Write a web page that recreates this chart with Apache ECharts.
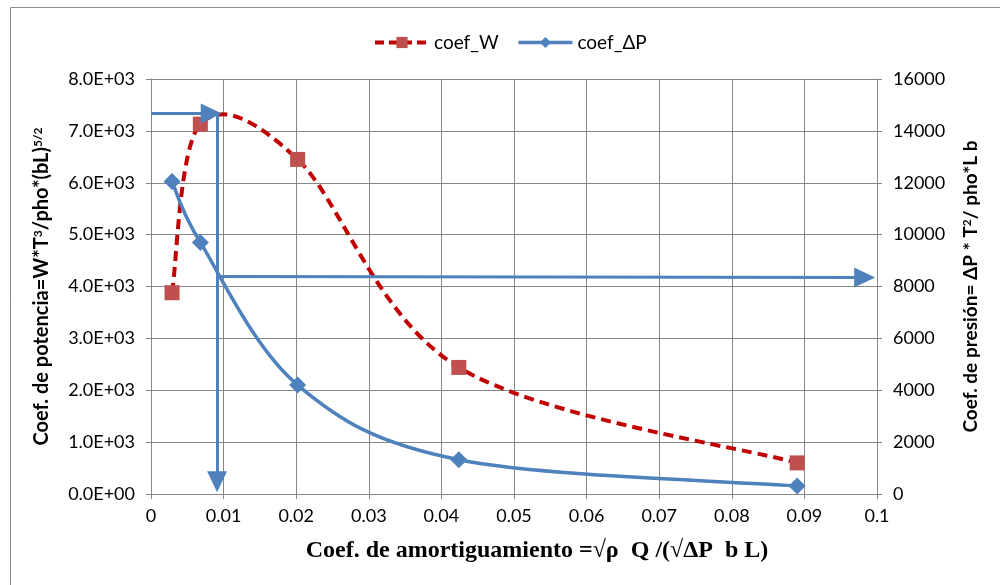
<!DOCTYPE html>
<html>
<head>
<meta charset="utf-8">
<script src="https://cdn.jsdelivr.net/npm/echarts@6/dist/echarts.min.js"></script>
<style>
html,body{margin:0;padding:0;background:#fff;}
#c{width:1000px;height:585px;}
</style>
</head>
<body>
<div id="c"></div>
<script>
// Data
const xW = [0.0029, 0.0068, 0.0202, 0.0424, 0.0890];
const coefW = [3880, 7130, 6450, 2440, 600];
const xP = [0.0029, 0.0068, 0.0202, 0.0424, 0.0890];
const coefP = [12050, 9700, 4200, 1320, 310];
const seriesNames = ['coef_W', 'coef_ΔP'];
// Annotation arrows (left-axis coordinates, end = arrowhead centre): [x1, y1, x2, y2]
const arrowTop = [0, 7335, 0.0083, 7335];
const arrowDown = [0.0091, 7335, 0.0091, 235];
const arrowRight = [0.0091, 4195, 0.0983, 4175];

const sans = 'Lato, "Open Sans", sans-serif';
const grey = '#868686';
const blue = '#4F81BD';
const red = '#C00000';
const redMark = '#C0504D';

function pairs(xs, ys) { return xs.map((x, i) => [x, ys[i]]); }
function sci(v) {
  if (v === 0) return '0.0E+00';
  const s = v.toExponential(1).split('e');
  const e = parseInt(s[1], 10);
  return s[0] + 'E' + (e < 0 ? '-' : '+') + String(Math.abs(e)).padStart(2, '0');
}
function arrow(a) {
  return [{ coord: [a[0], a[1]] }, { coord: [a[2], a[3]] }];
}
// Spreadsheet-style smoothed curve (Catmull-Rom Bezier) through points in pixel space
function smoothPath(p) {
  let d = 'M' + p[0][0] + ' ' + p[0][1];
  for (let i = 0; i < p.length - 1; i++) {
    const p0 = p[Math.max(i - 1, 0)], p1 = p[i], p2 = p[i + 1], p3 = p[Math.min(i + 2, p.length - 1)];
    const c1 = [p1[0] + (p2[0] - p0[0]) / 6, p1[1] + (p2[1] - p0[1]) / 6];
    const c2 = [p2[0] - (p3[0] - p1[0]) / 6, p2[1] - (p3[1] - p1[1]) / 6];
    d += ' C' + c1[0] + ' ' + c1[1] + ' ' + c2[0] + ' ' + c2[1] + ' ' + p2[0] + ' ' + p2[1];
  }
  return d;
}
function curveSeries(name, xs, ys, axisIdx, style) {
  return {
    name: name, type: 'custom', yAxisIndex: axisIdx, silent: true, z: 2,
    data: pairs(xs, ys),
    renderItem: function (params, api) {
      if (params.dataIndex !== 0) return null;
      const pts = xs.map((x, i) => api.coord([x, ys[i]]));
      return { type: 'path', shape: { pathData: smoothPath(pts) }, style: Object.assign({ fill: null }, style) };
    }
  };
}

const chart = echarts.init(document.getElementById('c'), null, { renderer: 'canvas' });
chart.setOption({
  animation: false,
  backgroundColor: '#fff',
  graphic: [{
    type: 'rect', left: 8, top: 5, z: -1,
    shape: { x: 0, y: 0, width: 1100, height: 700 },
    style: { fill: 'none', stroke: '#8c8c8c', lineWidth: 1 }
  }],
  legend: {
    top: 28, left: 368,
    itemWidth: 54, itemHeight: 14, itemGap: 18,
    textStyle: { fontFamily: sans, fontSize: 19, color: '#000' },
    data: [
      { name: seriesNames[0], lineStyle: { opacity: 1, color: red, width: 4, type: [9, 5] } },
      { name: seriesNames[1], lineStyle: { opacity: 1, color: blue, width: 3.5, type: 'solid' } }
    ]
  },
  grid: { left: 151, right: 123, top: 79, bottom: 91, containLabel: false },
  xAxis: {
    type: 'value', min: 0, max: 0.1, interval: 0.01,
    name: 'Coef. de amortiguamiento =√ρ  Q /(√ΔP  b L)',
    nameLocation: 'middle', nameGap: 45,
    nameTextStyle: { fontFamily: '"Liberation Serif", serif', fontWeight: 'bold', fontSize: 24, color: '#000', padding: [0, 0, 0, 46] },
    axisLine: { lineStyle: { color: grey, width: 1 } },
    axisTick: { show: true, length: 5, lineStyle: { color: grey } },
    axisLabel: { fontFamily: sans, fontSize: 18, color: '#000', margin: 13 },
    splitLine: { show: true, lineStyle: { color: grey, width: 1 } }
  },
  yAxis: [{
    type: 'value', min: 0, max: 8000, interval: 1000, position: 'left',
    name: 'Coef. de potencia=W*T{s|3}/pho*(bL){s|5/2}',
    nameLocation: 'middle', nameRotate: 90, nameGap: 99,
    nameTextStyle: {
      fontFamily: sans, fontWeight: 'bold', fontSize: 20, color: '#000',
      rich: { s: { fontFamily: sans, fontWeight: 'bold', fontSize: 12, verticalAlign: 'top', color: '#000' } }
    },
    axisLine: { show: true, lineStyle: { color: grey, width: 1 } },
    axisTick: { show: true, length: 5, lineStyle: { color: grey } },
    axisLabel: { fontFamily: sans, fontSize: 18, color: '#000', margin: 16, formatter: sci },
    splitLine: { show: true, lineStyle: { color: grey, width: 1 } }
  }, {
    type: 'value', min: 0, max: 16000, interval: 2000, position: 'right',
    name: 'Coef. de presión= ΔP * T{s|2}/ pho*L b',
    nameLocation: 'middle', nameRotate: 90, nameGap: 84,
    nameTextStyle: {
      fontFamily: sans, fontWeight: 'bold', fontSize: 19, color: '#000',
      rich: { s: { fontFamily: sans, fontWeight: 'bold', fontSize: 12, verticalAlign: 'top', color: '#000' } }
    },
    axisLine: { show: true, lineStyle: { color: grey, width: 1 } },
    axisTick: { show: true, length: 5, lineStyle: { color: grey } },
    axisLabel: { fontFamily: sans, fontSize: 18, color: '#000', margin: 16, formatter: v => String(v) },
    splitLine: { show: false }
  }],
  series: [
    curveSeries('coef_W curve', xW, coefW, 0, { stroke: red, lineWidth: 4, lineDash: [10, 6] }),
    curveSeries('coef_ΔP curve', xP, coefP, 1, { stroke: blue, lineWidth: 3.5 }),
    {
      name: seriesNames[0], type: 'line', yAxisIndex: 0,
      data: pairs(xW, coefW),
      symbol: 'rect', symbolSize: 15,
      itemStyle: { color: redMark },
      lineStyle: { color: red, width: 4, opacity: 0 },
      z: 4
    }, {
      name: seriesNames[1], type: 'line', yAxisIndex: 1,
      data: pairs(xP, coefP),
      symbol: 'diamond', symbolSize: 17,
      itemStyle: { color: blue },
      lineStyle: { color: blue, width: 3.5, opacity: 0 },
      z: 4
    }, {
      name: 'arrows', type: 'line', yAxisIndex: 0, data: [],
      markLine: {
        silent: true, animation: false,
        symbol: ['none', 'triangle'], symbolSize: [20, 21],
        label: { show: false },
        lineStyle: { color: blue, width: 3, type: 'solid' },
        itemStyle: { color: blue },
        emphasis: { disabled: true },
        data: [arrow(arrowTop), arrow(arrowDown), arrow(arrowRight)]
      },
      z: 3
    }
  ]
});
</script>
</body>
</html>
